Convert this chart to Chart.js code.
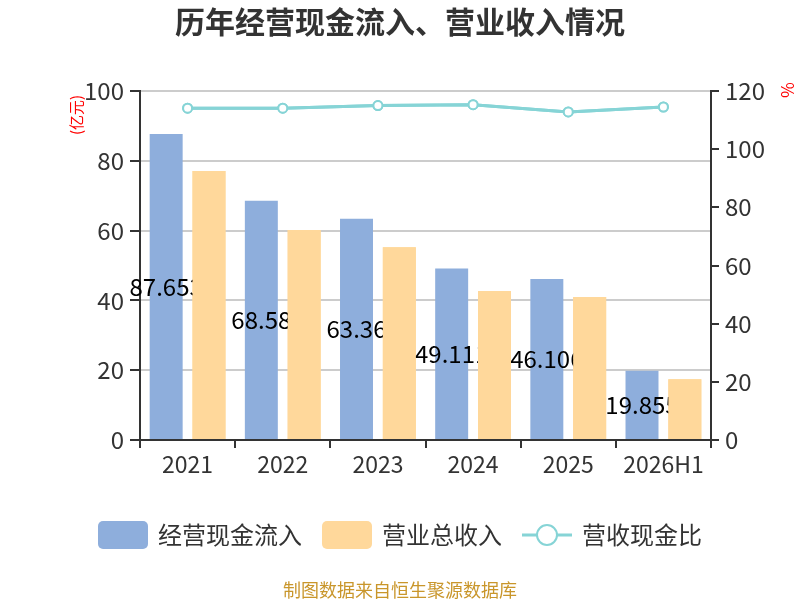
<!DOCTYPE html>
<html>
<head>
<meta charset="utf-8">
<script src="https://cdn.jsdelivr.net/npm/chart.js@4/dist/chart.umd.min.js"></script>
<style>
  body { margin: 0; background: #fff; }
  #chart { display: block; }
</style>
</head>
<body>
<canvas id="chart" width="800" height="600"></canvas>
<script>
const years = ["2021", "2022", "2023", "2024", "2025", "2026H1"];
const cashInflow = [87.653, 68.58, 63.36, 49.111, 46.106, 19.855];
const revenue = [77.1, 60.2, 55.2, 42.7, 41.0, 17.4];
const cashRatio = [114.1, 114.1, 115.0, 115.3, 112.8, 114.5];

const FONT = "'Noto Sans CJK SC', 'Noto Sans', sans-serif";
const colors = ["#8eaedc", "#ffd89b", "#86d4d6"];
const textColor = "#333333";

// title, axis units, bar labels, legend and footer
const decorations = {
  id: "decorations",
  afterDatasetsDraw(chart) {
    const ctx = chart.ctx;
    const meta = chart.getDatasetMeta(0);
    ctx.save();
    ctx.font = "24px " + FONT;
    ctx.fillStyle = "#000";
    ctx.textAlign = "center";
    ctx.textBaseline = "middle";
    meta.data.forEach((bar, i) => {
      const mid = (bar.y + bar.base) / 2;
      ctx.fillText(String(cashInflow[i]), bar.x, mid);
    });
    ctx.restore();
    // revenue bars sit on top of the labels
    chart.getDatasetMeta(1).data.forEach((bar) => bar.draw(ctx));
    chart.getDatasetMeta(2).controller.draw();
  },
  afterDraw(chart) {
    const ctx = chart.ctx;
    ctx.save();
    ctx.fillStyle = textColor;
    ctx.textAlign = "center";
    ctx.textBaseline = "middle";
    ctx.font = "bold 30px " + FONT;
    ctx.fillText("历年经营现金流入、营业收入情况", 400, 22);

    // unit labels
    ctx.fillStyle = "#ff0000";
    ctx.font = "15px " + FONT;
    ctx.save();
    ctx.translate(76, 115);
    ctx.rotate(-Math.PI / 2);
    ctx.fillText("(亿元)", 0, 0);
    ctx.restore();
    ctx.save();
    ctx.font = "17px " + FONT;
    ctx.translate(787, 90);
    ctx.rotate(Math.PI / 2);
    ctx.fillText("%", 0, 0);
    ctx.restore();

    // legend
    const ly = 535;
    ctx.font = "24px " + FONT;
    ctx.textAlign = "left";
    ctx.fillStyle = colors[0];
    ctx.beginPath();
    ctx.roundRect(98, ly - 14, 50, 28, 5);
    ctx.fill();
    ctx.fillStyle = textColor;
    ctx.fillText("经营现金流入", 158, ly);
    ctx.fillStyle = colors[1];
    ctx.beginPath();
    ctx.roundRect(322, ly - 14, 50, 28, 5);
    ctx.fill();
    ctx.fillStyle = textColor;
    ctx.fillText("营业总收入", 382, ly);
    ctx.strokeStyle = colors[2];
    ctx.lineWidth = 3;
    ctx.beginPath();
    ctx.moveTo(522, ly);
    ctx.lineTo(572, ly);
    ctx.stroke();
    ctx.beginPath();
    ctx.arc(547, ly, 10, 0, Math.PI * 2);
    ctx.fillStyle = "#fff";
    ctx.fill();
    ctx.lineWidth = 2;
    ctx.stroke();
    ctx.fillStyle = textColor;
    ctx.fillText("营收现金比", 582, ly);

    // footer
    ctx.textAlign = "center";
    ctx.font = "18px " + FONT;
    ctx.fillStyle = "#c9962b";
    ctx.fillText("制图数据来自恒生聚源数据库", 400, 590);
    ctx.restore();
  },
};

const ctx = document.getElementById("chart");
new Chart(ctx, {
  type: "bar",
  data: {
    labels: years,
    datasets: [
      {
        label: "经营现金流入",
        data: cashInflow,
        backgroundColor: colors[0],
        yAxisID: "y",
        categoryPercentage: 0.9,
        barPercentage: 0.77,
      },
      {
        label: "营业总收入",
        data: revenue,
        backgroundColor: colors[1],
        yAxisID: "y",
        categoryPercentage: 0.9,
        barPercentage: 0.77,
      },
      {
        type: "line",
        label: "营收现金比",
        data: cashRatio,
        yAxisID: "y1",
        borderColor: colors[2],
        borderWidth: 3,
        pointRadius: 4.5,
        pointBorderWidth: 2,
        pointBackgroundColor: "#fff",
        pointBorderColor: colors[2],
        tension: 0,
      },
    ],
  },
  options: {
    responsive: false,
    animation: false,
    layout: { padding: { left: 60, right: 30, top: 91, bottom: 120 } },
    plugins: {
      legend: { display: false },
      title: { display: false },
      tooltip: { enabled: false },
    },
    scales: {
      x: {
        afterFit: (scale) => { scale.height = 40; },
        grid: {
          offset: true,
          drawOnChartArea: false,
          tickLength: 8,
          tickColor: textColor,
          lineWidth: 2,
        },
        border: { color: textColor, width: 2 },
        ticks: { color: textColor, font: { family: FONT, size: 23 }, padding: 2 },
      },
      y: {
        position: "left",
        min: 0,
        max: 100,
        afterFit: (scale) => { scale.width = 80; },
        ticks: { stepSize: 20, color: textColor, font: { family: FONT, size: 24 }, padding: 6 },
        grid: { color: "#cccccc", lineWidth: 2, tickLength: 10, tickColor: textColor },
        border: { color: textColor, width: 2 },
      },
      y1: {
        position: "right",
        min: 0,
        max: 120,
        afterFit: (scale) => { scale.width = 59; },
        ticks: { stepSize: 20, color: textColor, font: { family: FONT, size: 24 }, padding: 6 },
        grid: { drawOnChartArea: false, tickLength: 8, tickColor: textColor, lineWidth: 2 },
        border: { color: textColor, width: 2 },
      },
    },
  },
  plugins: [decorations],
});
</script>
</body>
</html>
